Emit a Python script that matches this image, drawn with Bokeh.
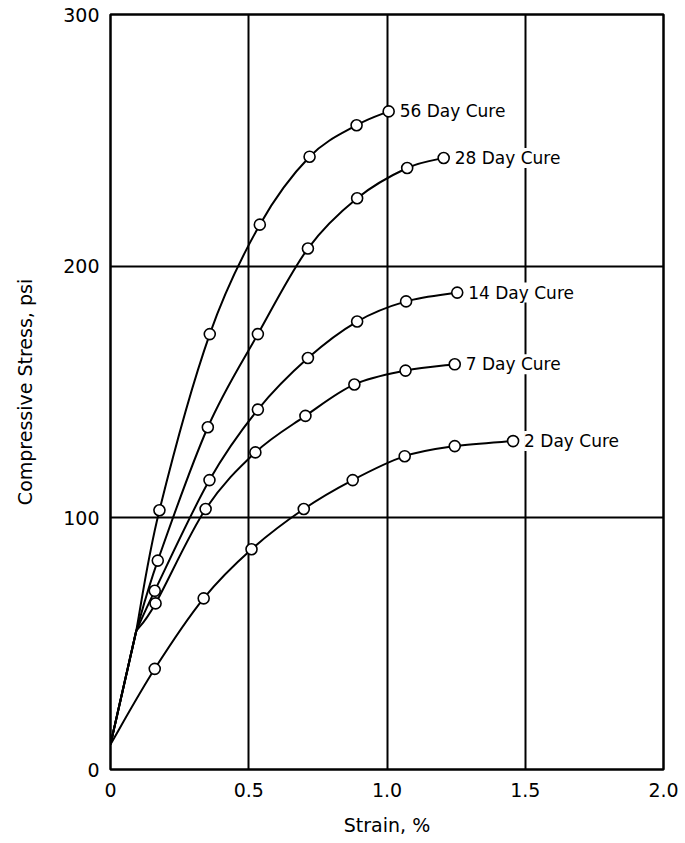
from bokeh.plotting import figure
from bokeh.models import FixedTicker, Label, Range1d
from bokeh.embed import file_html
from bokeh.resources import INLINE

# ---- data ----
origin_strain = 0.0
origin_stress = 10.0
knee_strain = 0.093
knee_stress = 55.0

strain_56 = [0.177, 0.359, 0.54, 0.72, 0.89, 1.006]
stress_56 = [103, 173, 216.5, 243.5, 256, 261.5]

strain_28 = [0.171, 0.352, 0.533, 0.714, 0.892, 1.073, 1.205]
stress_28 = [83, 136, 173, 207, 227, 239, 243]

strain_14 = [0.16, 0.358, 0.533, 0.714, 0.892, 1.069, 1.254]
stress_14 = [71, 115, 143, 163.5, 178, 186, 189.5]

strain_7 = [0.163, 0.344, 0.524, 0.705, 0.882, 1.067, 1.245]
stress_7 = [66, 103.5, 126, 140.5, 153, 158.5, 161]

strain_2 = [0.16, 0.337, 0.51, 0.699, 0.876, 1.064, 1.245, 1.456]
stress_2 = [40, 68, 87.5, 103.5, 115, 124.5, 128.5, 130.5]

series_labels = ["56 Day Cure", "28 Day Cure", "14 Day Cure", "7 Day Cure", "2 Day Cure"]

x_ticks = [0, 0.5, 1.0, 1.5, 2.0]
x_tick_labels = ["0", "0.5", "1.0", "1.5", "2.0"]
y_ticks = [0, 100, 200, 300]
y_tick_labels = ["0", "100", "200", "300"]
x_grid = [0.5, 1.0, 1.5]
y_grid = [100, 200]

FONT = "DejaVu Sans"

p = figure(width=684, height=842, x_range=Range1d(0, 2), y_range=Range1d(0, 300),
           output_backend="svg", toolbar_location=None,
           min_border_left=110, min_border_top=14, min_border_right=21, min_border_bottom=73)

p.background_fill_color = "white"
p.border_fill_color = "white"
p.outline_line_color = "black"
p.outline_line_width = 2.5

p.xaxis.ticker = FixedTicker(ticks=x_ticks)
p.yaxis.ticker = FixedTicker(ticks=y_ticks)
p.xaxis.major_label_overrides = {t: s for t, s in zip(x_ticks, x_tick_labels)}
p.yaxis.major_label_overrides = {t: s for t, s in zip(y_ticks, y_tick_labels)}
for ax in (p.xaxis, p.yaxis):
    ax.axis_line_color = None
    ax.major_tick_line_color = None
    ax.minor_tick_line_color = None
    ax.major_tick_out = 0
    ax.major_tick_in = 0
    ax.minor_tick_out = 0
    ax.major_label_text_font = FONT
    ax.major_label_text_font_size = "19px"
    ax.major_label_text_color = "black"
    ax.axis_label_text_font = FONT
    ax.axis_label_text_font_size = "19px"
    ax.axis_label_text_font_style = "normal"
    ax.axis_label_text_color = "black"
p.xaxis.major_label_standoff = 13
p.yaxis.major_label_standoff = 11
p.xaxis.axis_label = "Strain, %"
p.xaxis.axis_label_standoff = 14
p.yaxis.axis_label = "Compressive Stress, psi"
p.yaxis.axis_label_standoff = 24

p.xgrid.ticker = FixedTicker(ticks=x_grid)
p.ygrid.ticker = FixedTicker(ticks=y_grid)
p.grid.grid_line_color = "black"
p.grid.grid_line_width = 2
p.grid.grid_line_alpha = 1.0

all_series = [(strain_56, stress_56), (strain_28, stress_28), (strain_14, stress_14),
              (strain_7, stress_7), (strain_2, stress_2)]


def smooth_bezier(xs, ys):
    """Catmull-Rom style cubic Bezier segments through the given points."""
    n = len(xs)
    x0, y0, x1, y1, cx0, cy0, cx1, cy1 = [], [], [], [], [], [], [], []
    for i in range(n - 1):
        im1 = max(i - 1, 0)
        ip2 = min(i + 2, n - 1)
        x0.append(xs[i]); y0.append(ys[i])
        x1.append(xs[i + 1]); y1.append(ys[i + 1])
        cx0.append(xs[i] + (xs[i + 1] - xs[im1]) / 6.0)
        cy0.append(ys[i] + (ys[i + 1] - ys[im1]) / 6.0)
        cx1.append(xs[i + 1] - (xs[ip2] - xs[i]) / 6.0)
        cy1.append(ys[i + 1] - (ys[ip2] - ys[i]) / 6.0)
    p.bezier(x0=x0, y0=y0, x1=x1, y1=y1, cx0=cx0, cy0=cy0, cx1=cx1, cy1=cy1,
             line_color="black", line_width=2)


for i, (xs, ys) in enumerate(all_series):
    if i < 4:
        p.line([origin_strain, knee_strain], [origin_stress, knee_stress],
               line_color="black", line_width=2)
        smooth_bezier([knee_strain] + xs, [knee_stress] + ys)
    else:
        smooth_bezier([origin_strain] + xs, [origin_stress] + ys)
    p.scatter(xs, ys, marker="circle", size=11, fill_color="white",
              line_color="black", line_width=1.6)

for (xs, ys), lab in zip(all_series, series_labels):
    p.add_layout(Label(x=xs[-1], y=ys[-1], x_offset=11, text=lab, text_font=FONT,
                       text_font_size="17px", text_baseline="middle", text_align="left",
                       text_color="black", background_fill_color="white"))

open("out.html", "w").write(file_html(p, INLINE))
